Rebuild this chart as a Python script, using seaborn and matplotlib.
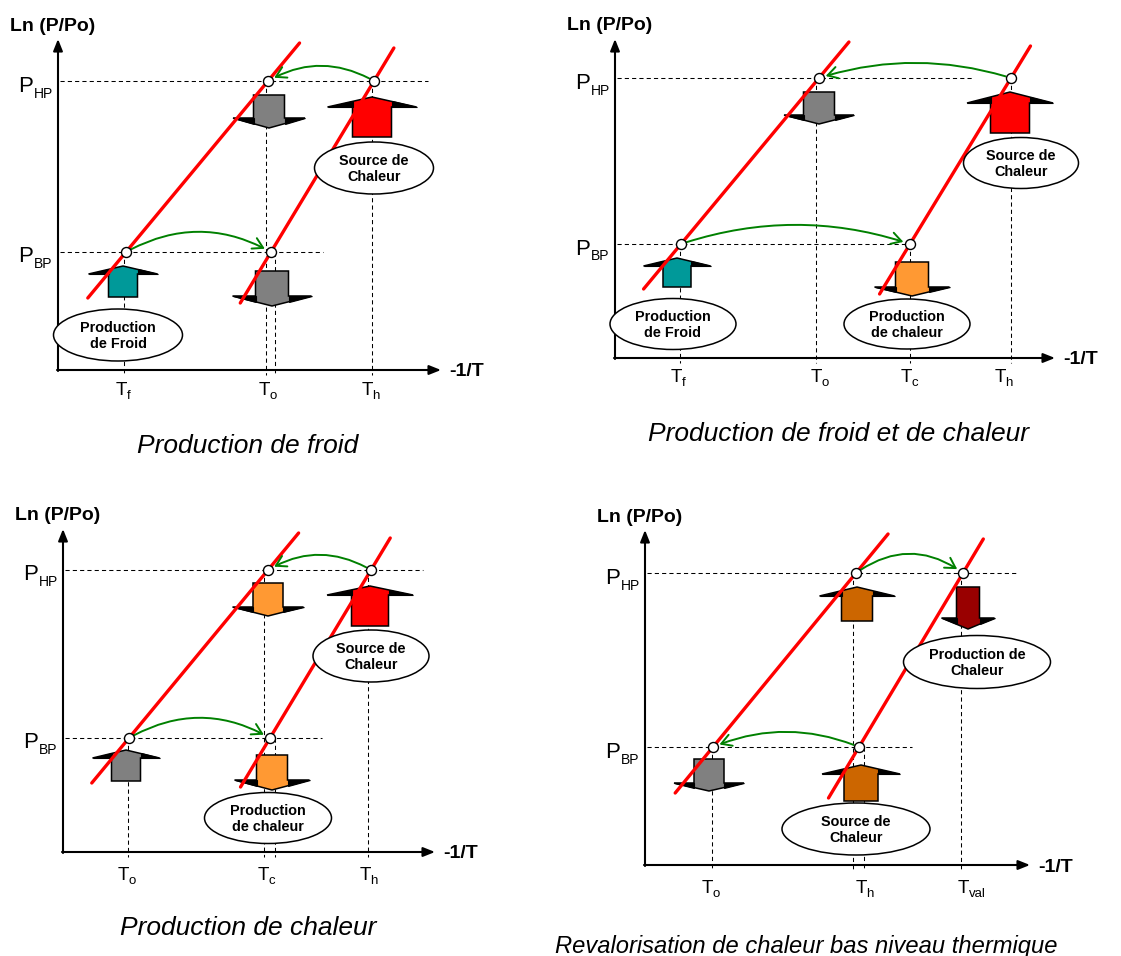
import numpy as np
import pandas as pd
import matplotlib
matplotlib.use("Agg")
import matplotlib.pyplot as plt
import seaborn as sns
from matplotlib.patches import Ellipse, Polygon, FancyArrowPatch

sns.set_theme(style="white")
plt.rcParams['font.family'] = ['Liberation Sans', 'DejaVu Sans']
plt.rcParams['text.color'] = 'black'

# ------------------------------------------------------------------
# Colours
TEAL = "#009999"; RED = "#FF0000"; GRAY = "#808080"; ORANGE = "#FF9933"
BROWN = "#CC6600"; DARKRED = "#990000"; GREEN = "#008000"

# ------------------------------------------------------------------
# DATA (values read from the schematic, in pixel units of the picture)
# Panel 1 : Production de froid
p1_title = "Production de froid"
p1_levels = [81, 252]                # y of P_HP, P_BP
p1_hp_x = [268, 374]                 # state points on HP isobar (line 1, line 2)
p1_bp_x = [126, 271]                 # state points on BP isobar (line 1, line 2)
p1_tick_labels = ["f", "o", "h"]
p1_tick_x = [121, 264, 367]
p1_ellipse_text = ["Production\nde Froid", "Source de\nChaleur"]
p1_arrow_colors = [TEAL, RED, GRAY, GRAY]

# Panel 2 : Production de froid et de chaleur
p2_title = "Production de froid et de chaleur"
p2_levels = [78, 244]
p2_hp_x = [819, 1011]
p2_bp_x = [681, 910]
p2_tick_labels = ["f", "o", "c", "h"]
p2_tick_x = [676, 816, 906, 1000]
p2_ellipse_text = ["Production\nde Froid", "Production\nde chaleur", "Source de\nChaleur"]
p2_arrow_colors = [TEAL, GRAY, ORANGE, RED]

# Panel 3 : Production de chaleur
p3_title = "Production de chaleur"
p3_levels = [570, 738]
p3_hp_x = [268, 371]
p3_bp_x = [129, 270]
p3_tick_labels = ["o", "c", "h"]
p3_tick_x = [123, 263, 365]
p3_ellipse_text = ["Source de\nChaleur", "Production\nde chaleur"]
p3_arrow_colors = [GRAY, ORANGE, ORANGE, RED]

# Panel 4 : Revalorisation de chaleur bas niveau thermique
p4_title = "Revalorisation de chaleur bas niveau thermique"
p4_levels = [573, 747]
p4_hp_x = [856, 963]
p4_bp_x = [713, 859]
p4_tick_labels = ["o", "h", "val"]
p4_tick_x = [707, 861, 963]
p4_ellipse_text = ["Production de\nChaleur", "Source de\nChaleur"]
p4_arrow_colors = [BROWN, DARKRED, GRAY, BROWN]

# ------------------------------------------------------------------
# LAYOUT (positions / sizes of the drawing elements)
panels = [
    dict(title=p1_title, levels=p1_levels, hp_x=p1_hp_x, bp_x=p1_bp_x,
         tick_labels=p1_tick_labels, tick_x=p1_tick_x, tick_base=395,
         frame=(58, 370, 39, 441), ln_xy=(53, 26), level_end=(428, 323),
         line_ext=[(298, 43), (303, 48)],
         verticals=[(124, 252), (266, 81), (275, 252), (372, 81)],
         arrows=[(123, 297, 266, 29, 69, 8), (372, 137, 97, 39, 89, 10),
                 (269, 95, 128, 31, 72, 10), (272, 271, 306, 33, 79, 10)],
         arrow_colors=p1_arrow_colors,
         ellipses=[(118, 335, 129, 52), (374, 168, 119, 52)], ellipse_text=p1_ellipse_text,
         arcs=[(1, 0, 15), (2, 3, 20)],
         title_xy=(248, 453), title_px=26.4),
    dict(title=p2_title, levels=p2_levels, hp_x=p2_hp_x, bp_x=p2_bp_x,
         tick_labels=p2_tick_labels, tick_x=p2_tick_x, tick_base=382,
         frame=(615, 358, 39, 1055), ln_xy=(610, 25), level_end=(973, 909),
         line_ext=[(289, 42), (294, 46)],
         verticals=[(680, 244), (816, 78), (910, 244), (1011, 78)],
         arrows=[(677, 287, 258, 28, 67, 8), (819, 92, 124, 31, 70, 9),
                 (912, 262, 296, 33, 75, 9), (1010, 133, 92, 39, 86, 11)],
         arrow_colors=p2_arrow_colors,
         ellipses=[(673, 324, 126, 51), (907, 324, 126, 50), (1021, 163, 115, 51)],
         ellipse_text=p2_ellipse_text,
         arcs=[(1, 0, 15), (2, 3, 19)],
         title_xy=(838, 441), title_px=26.4),
    dict(title=p3_title, levels=p3_levels, hp_x=p3_hp_x, bp_x=p3_bp_x,
         tick_labels=p3_tick_labels, tick_x=p3_tick_x, tick_base=880,
         frame=(63, 852, 529, 435), ln_xy=(58, 516), level_end=(423, 322),
         line_ext=[(783, 533), (787, 538)],
         verticals=[(128, 738), (264, 570), (275, 738), (368, 570)],
         arrows=[(126, 781, 750, 29, 67, 8), (268, 583, 616, 30, 71, 9),
                 (272, 755, 790, 31, 75, 10), (370, 626, 586, 37, 86, 9)],
         arrow_colors=p3_arrow_colors,
         ellipses=[(371, 656, 116, 52), (268, 818, 127, 51)], ellipse_text=p3_ellipse_text,
         arcs=[(1, 0, 15), (2, 3, 20)],
         title_xy=(248, 935), title_px=26.4),
    dict(title=p4_title, levels=p4_levels, hp_x=p4_hp_x, bp_x=p4_bp_x,
         tick_labels=p4_tick_labels, tick_x=p4_tick_x, tick_base=893,
         frame=(645, 865, 530, 1030), ln_xy=(640, 517), level_end=(1018, 912),
         line_ext=[(793, 534), (798, 539)],
         verticals=[(712, 747), (853, 573), (864, 747), (961, 573)],
         arrows=[(857, 621, 587, 31, 75, 9), (968, 587, 629, 23, 53, 11),
                 (709, 759, 791, 30, 70, 8), (861, 801, 765, 34, 78, 9)],
         arrow_colors=p4_arrow_colors,
         ellipses=[(977, 662, 147, 53), (856, 829, 148, 52)], ellipse_text=p4_ellipse_text,
         arcs=[(0, 1, 19), (3, 2, 15)],
         title_xy=(806, 953), title_px=23.8),
]

# ------------------------------------------------------------------
W, H = 1121, 956
fig = plt.figure(figsize=(W / 100, H / 100), dpi=100)
fig.patch.set_facecolor("white")
ax = fig.add_axes([0, 0, 1, 1])
ax.set_xlim(0, W)
ax.set_ylim(H, 0)
ax.axis("off")
PT = 0.72  # points per pixel at dpi 100


def block_arrow(cx, y_start, y_tip, shaft_w, head_w, head_h, color):
    s = np.sign(y_start - y_tip)
    wing_y = y_tip + s * head_h
    sw, hw = shaft_w / 2, head_w / 2
    pts = [(cx - sw, y_start), (cx - sw, wing_y), (cx - hw, wing_y), (cx, y_tip),
           (cx + hw, wing_y), (cx + sw, wing_y), (cx + sw, y_start)]
    ax.add_patch(Polygon(pts, closed=True, fc=color, ec="black", lw=1.1, zorder=2))
    # dark bevelled wings
    y_edge = wing_y + (y_tip - wing_y) * (hw - sw) / hw
    for side in (-1, 1):
        tri = [(cx + side * hw, wing_y), (cx + side * sw, wing_y), (cx + side * sw, y_edge)]
        ax.add_patch(Polygon(tri, closed=True, fc="black", ec="black", lw=0.8, zorder=2))


def draw_panel(pn):
    x0, ya, ytop, xr = pn["frame"]
    # axes with arrow heads
    ax.annotate("", xy=(x0, ytop), xytext=(x0, ya + 1),
                arrowprops=dict(arrowstyle="-|>,head_length=0.5,head_width=0.2",
                                lw=1.5, color="black", mutation_scale=14,
                                shrinkA=0, shrinkB=0), zorder=3)
    ax.annotate("", xy=(xr, ya), xytext=(x0 - 1, ya),
                arrowprops=dict(arrowstyle="-|>,head_length=0.5,head_width=0.2",
                                lw=1.5, color="black", mutation_scale=14,
                                shrinkA=0, shrinkB=0), zorder=3)
    ax.text(pn["ln_xy"][0], pn["ln_xy"][1], "Ln (P/Po)", ha="center", va="center",
            fontsize=14, fontweight="bold", color="black")
    ax.text(xr + 8, ya + 2, "-1/T", ha="left", va="center", fontsize=14,
            fontweight="bold", color="black")

    levels = pn["levels"]
    # P labels and dotted isobars
    for lvl, sub, end in zip(levels, ["HP", "BP"], pn["level_end"]):
        ax.text(x0 - 40, lvl + 10.5, "P", fontsize=16, ha="left", va="baseline", color="black")
        ax.text(x0 - 24, lvl + 16.5, sub, fontsize=10, ha="left", va="baseline", color="black")
        ax.plot([x0 + 2, end], [lvl, lvl], color="black", lw=0.75, ls=(0, (4, 3)), zorder=1)

    # dashed verticals down to the temperature axis
    for vx, vy in pn["verticals"]:
        ax.plot([vx, vx], [vy, ya + 5], color="black", lw=0.75, ls=(0, (4, 3)), zorder=1)

    # temperature labels
    for lab, tx in zip(pn["tick_labels"], pn["tick_x"]):
        ax.text(tx, pn["tick_base"], "T", fontsize=13.5, ha="center", va="baseline", color="black")
        ax.text(tx + 5.5, pn["tick_base"] + 4, lab, fontsize=9.5, ha="left",
                va="baseline", color="black")

    # block arrows
    for spec, col in zip(pn["arrows"], pn["arrow_colors"]):
        block_arrow(*spec, col)

    # red isosteres (through the state points)
    hp_y, bp_y = levels
    for i in range(2):
        xh, xb = pn["hp_x"][i], pn["bp_x"][i]
        ys = np.array(pn["line_ext"][i], dtype=float)
        xs = xb + (ys - bp_y) * (xh - xb) / (hp_y - bp_y)
        df = pd.DataFrame({"x": xs, "y": ys})
        sns.lineplot(data=df, x="x", y="y", ax=ax, color=RED, lw=2.4,
                     sort=False, estimator=None, zorder=3, legend=False)

    # ellipses with labels
    for (ex, ey, ew, eh), t in zip(pn["ellipses"], pn["ellipse_text"]):
        ax.add_patch(Ellipse((ex, ey), ew, eh, fc="white", ec="black", lw=1.1, zorder=4))
        ax.text(ex, ey + 1, t, ha="center", va="center", fontsize=10.4, color="black",
                fontweight="bold", linespacing=1.15, zorder=5)

    # state points
    pts_x = [pn["hp_x"][0], pn["hp_x"][1], pn["bp_x"][0], pn["bp_x"][1]]
    pts_y = [hp_y, hp_y, bp_y, bp_y]
    sns.scatterplot(x=pts_x, y=pts_y, ax=ax, s=52, color="white", edgecolor="black",
                    linewidth=1.0, zorder=7, legend=False)

    # green transfer arcs
    for a, b, h in pn["arcs"]:
        A = (pts_x[a], pts_y[a]); B = (pts_x[b], pts_y[b])
        dx = B[0] - A[0]
        r = 2.0 * h / abs(dx)
        rad = -r if dx > 0 else r
        ax.add_patch(FancyArrowPatch(A, B, connectionstyle=f"arc3,rad={rad}",
                                     arrowstyle="->,head_length=0.6,head_width=0.35",
                                     mutation_scale=12, color=GREEN, lw=1.4,
                                     shrinkA=4, shrinkB=5, zorder=6))

    # caption
    ax.text(pn["title_xy"][0], pn["title_xy"][1], pn["title"], ha="center", va="baseline",
            fontsize=pn["title_px"] * PT, fontstyle="italic", color="black")


for pn in panels:
    draw_panel(pn)

fig.savefig("out.png", dpi=100, facecolor="white")
